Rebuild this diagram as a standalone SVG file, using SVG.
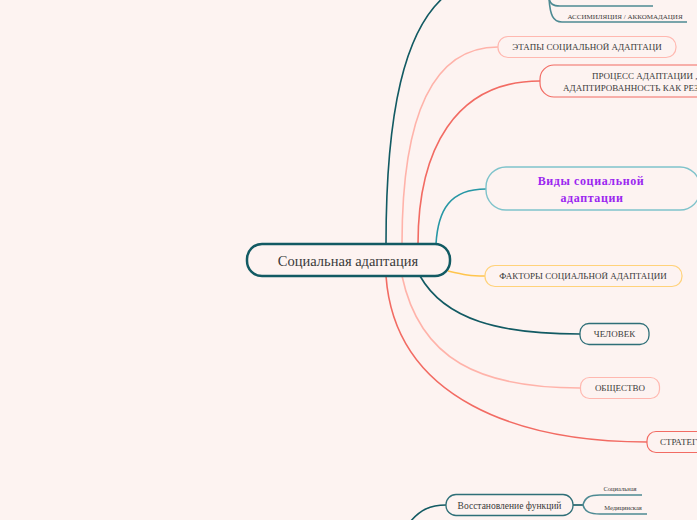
<svg xmlns="http://www.w3.org/2000/svg" width="697" height="520" viewBox="0 0 697 520">
<style>
text{font-family:"Liberation Serif","Times New Roman",serif}
.t{fill:#3a3a3a;text-anchor:middle}
.s{font-size:9px}
.c{fill:none;stroke-width:1.6}
.box{fill:#fdf3f1}
</style>
<rect width="697" height="520" fill="#fdf3f1"/>
<g id="connectors">
<path class="c" stroke="#125a63" d="M386 244 C386 110 405 30 445 -4"/>
<path class="c" stroke="#ffb3aa" d="M402 244 C402 120 430 47 498 47"/>
<path class="c" stroke="#f26b63" d="M418 244 C418 150 455 81 540 81"/>
<path class="c" stroke="#2797a5" d="M436 244 C438 210 450 189 486 189"/>
<path class="c" stroke="#ffc54d" d="M448 271 C465 275 470 276 485 276"/>
<path class="c" stroke="#125a63" d="M420 276 C445 320 500 334 580 334"/>
<path class="c" stroke="#ffb3aa" d="M402 276 C420 360 480 388 580 388"/>
<path class="c" stroke="#f26b63" d="M386 276 C395 400 520 442 647 442"/>
<path class="c" stroke="#4d8a93" d="M549 -2 C550 4 553 6 560 6 L653 6"/>
<path class="c" stroke="#4d8a93" d="M549 -2 C550 15 553 22 562 22 L687 22"/>
<path class="c" stroke="#125a63" d="M410 522 C420 510 430 505 446 505"/>
<path class="c" stroke="#125a63" d="M573 505 L583 505"/>
<path class="c" stroke="#4d8a93" d="M583 505 C585 497 590 495 600 495 L642 495"/>
<path class="c" stroke="#4d8a93" d="M583 505 C585 512 590 514 600 514 L647 514"/>
</g>
<g id="root">
<rect class="box" x="247" y="244" width="203" height="32" rx="15" stroke="#125a63" stroke-width="2.5"/>
<text class="t" x="348" y="266" font-size="14.5" font-family="Liberation Serif, serif">Социальная адаптация</text>
</g>
<g id="assim">
<text class="t" x="625" y="19" font-size="7" font-family="Liberation Serif, serif">АССИМИЛЯЦИЯ / АККОМАДАЦИЯ</text>
</g>
<g id="etapy">
<rect class="box" x="498" y="36.5" width="178" height="21" rx="10" stroke="#ffb8b0" stroke-width="1.2"/>
<text class="t s" x="587" y="50" font-family="Liberation Serif, serif">ЭТАПЫ СОЦИАЛЬНОЙ АДАПТАЦИ</text>
</g>
<g id="process">
<rect class="box" x="540" y="65" width="180" height="32" rx="14" stroke="#f26b63" stroke-width="1.2"/>
<text class="t s" x="592" y="79" style="text-anchor:start" font-family="Liberation Serif, serif">ПРОЦЕСС АДАПТАЦИИ ,</text>
<text class="t s" x="563" y="91" style="text-anchor:start" font-family="Liberation Serif, serif">АДАПТИРОВАННОСТЬ КАК РЕЗУЛЬТАТ</text>
</g>
<g id="vidy">
<rect class="box" x="486" y="167" width="214" height="43" rx="20" stroke="#7fc3cb" stroke-width="1.4"/>
<text class="t" x="591" y="185" font-size="12" font-weight="bold" font-family="Liberation Serif, serif" style="fill:#9b27f0;letter-spacing:0.6px">Виды социальной</text>
<text class="t" x="592" y="202" font-size="12" font-weight="bold" font-family="Liberation Serif, serif" style="fill:#9b27f0;letter-spacing:0.6px">адаптации</text>
</g>
<g id="faktory">
<rect class="box" x="485" y="265.5" width="197" height="21" rx="10" stroke="#ffd27a" stroke-width="1.2"/>
<text class="t s" x="583" y="279" font-family="Liberation Serif, serif">ФАКТОРЫ СОЦИАЛЬНОЙ АДАПТАЦИИ</text>
</g>
<g id="chelovek">
<rect class="box" x="580" y="323.5" width="69" height="21" rx="9" stroke="#2f6f78" stroke-width="1.3"/>
<text class="t s" x="614.5" y="337" font-family="Liberation Serif, serif">ЧЕЛОВЕК</text>
</g>
<g id="obshchestvo">
<rect class="box" x="580.5" y="377.5" width="79" height="21" rx="9" stroke="#ffb8b0" stroke-width="1.2"/>
<text class="t s" x="620" y="391" font-family="Liberation Serif, serif">ОБЩЕСТВО</text>
</g>
<g id="strategii">
<rect class="box" x="647" y="431.5" width="80" height="21" rx="9" stroke="#f26b63" stroke-width="1.2"/>
<text class="t s" x="660" y="445" style="text-anchor:start" font-family="Liberation Serif, serif">СТРАТЕГИИ</text>
</g>
<g id="vosst">
<rect class="box" x="446" y="494.5" width="127" height="21" rx="10" stroke="#2f6f78" stroke-width="1.3"/>
<text class="t" x="509.5" y="508.5" font-size="9.5" font-family="Liberation Serif, serif">Восстановление функций</text>
</g>
<g id="soc">
<text class="t" x="620" y="491" font-size="6.5" font-family="Liberation Serif, serif">Социальная</text>
</g>
<g id="med">
<text class="t" x="623" y="510" font-size="6.5" font-family="Liberation Serif, serif">Медицинская</text>
</g>
</svg>
